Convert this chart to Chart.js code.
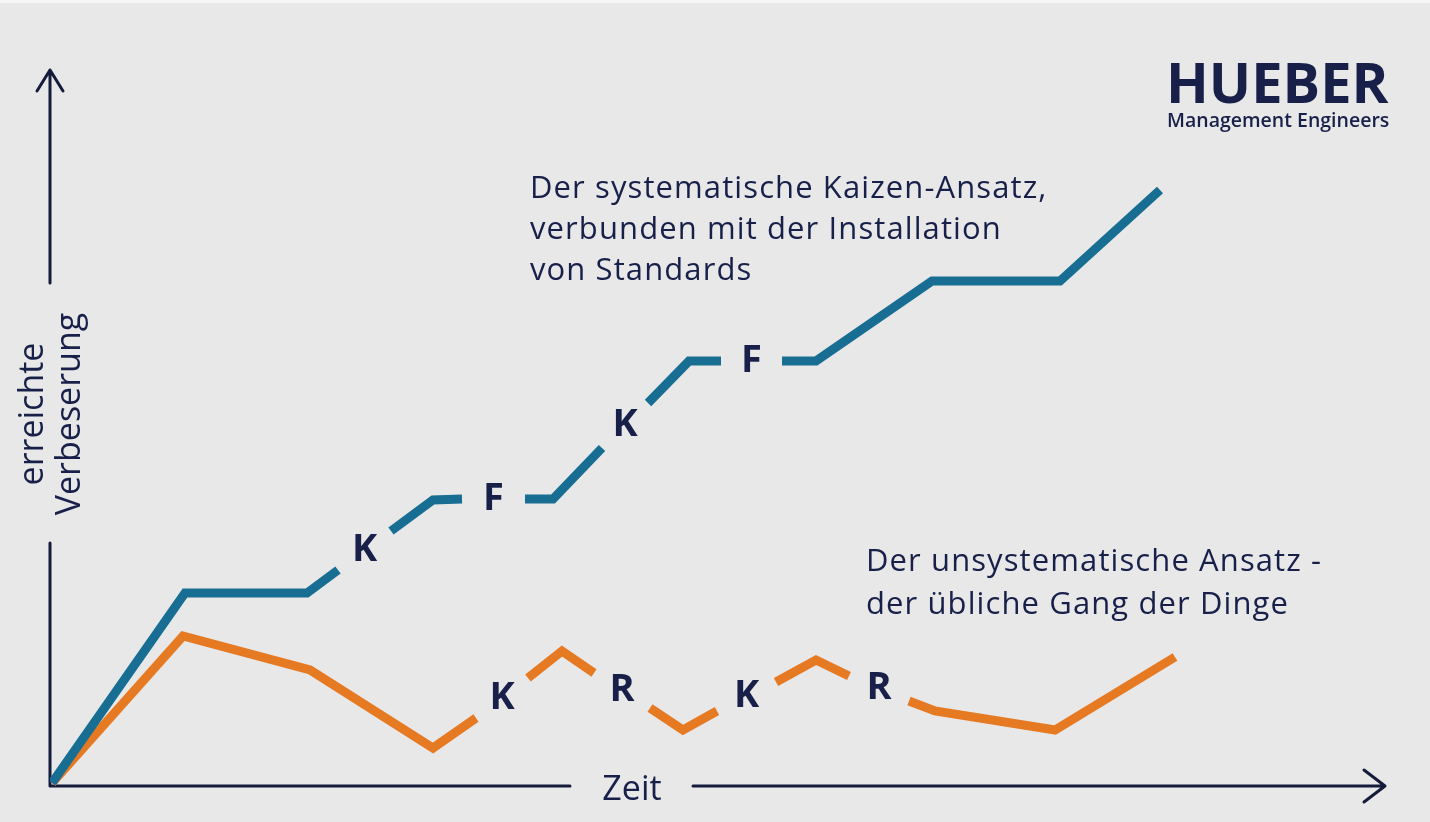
<!DOCTYPE html>
<html>
<head>
<meta charset="utf-8">
<script src="https://cdn.jsdelivr.net/npm/chart.js@4.4.1/dist/chart.umd.min.js"></script>
<style>
  html, body { margin: 0; padding: 0; background: #e8e8e8; }
  #wrap { width: 1430px; height: 822px; position: relative; border-top: 3px solid #f6f6f6; box-sizing: border-box; }
  canvas { display: block; position: absolute; left: 0; top: 0; }
</style>
</head>
<body>
<div id="wrap"><canvas id="chart" width="1430" height="822"></canvas></div>
<script>
// time axis (x) and achieved improvement (y), null = break where a letter sits
const kaizenX = [0.2, 13.5, 25.7, 28.8, 31.5, 34.1, 38.3, 41.2, 44.4, 47.5, 50.3, 55.2, 57.5, 59.8, 63.9, 67.1, 70.2, 73.2, 76.6, 88.2, 101.0, 111.0];
const kaizenY = [0.3, 19.3, 19.3, 21.6, null, 25.5, 28.6, 28.7, null, 28.7, 28.7, 33.8, null, 38.3, 42.5, 42.5, null, 42.5, 42.5, 50.5, 50.5, 59.6];
const kaizenMarks = ["K", "F", "K", "F"];

const usualX = [0.2, 13.3, 26.0, 38.3, 42.6, 45.2, 47.8, 51.2, 54.4, 57.2, 60.0, 63.3, 66.7, 69.7, 72.6, 76.6, 79.9, 82.9, 85.9, 88.5, 100.5, 112.5];
const usualY = [0.3, 15.0, 11.6, 3.8, 6.8, null, 10.8, 13.5, 11.3, null, 7.8, 5.6, 7.5, null, 10.4, 12.6, 11.0, null, 8.5, 7.5, 5.6, 12.9];
const usualMarks = ["K", "R", "K", "R"];

const kaizenText = ["Der systematische Kaizen-Ansatz,", "verbunden mit der Installation", "von Standards"];
const usualText = ["Der unsystematische Ansatz -", "der übliche Gang der Dinge"];
const xTitle = "Zeit";
const yTitle = ["erreichte", "Verbeserung"];

const NAVY = "#18204a";
const FONT = "'Open Sans', 'Noto Sans', sans-serif";

const toPoints = (xs, ys) => xs.map((x, i) => ({ x: x, y: ys[i] }));

// letters go in the middle of each break in the line
function drawMarks(ctx, meta, marks) {
  const pts = meta.data;
  let m = 0;
  meta._parsed.forEach((p, i) => {
    if (p.y === null || isNaN(p.y)) {
      const a = pts[i - 1], b = pts[i + 1];
      ctx.fillText(marks[m++], (a.x + b.x) / 2, (a.y + b.y) / 2);
    }
  });
}

const decor = {
  id: "decor",
  beforeDatasetsDraw(chart) {
    const { ctx, scales: { x, y } } = chart;
    const x0 = x.getPixelForValue(0), y0 = y.getPixelForValue(0);
    const xEnd = x.getPixelForValue(133.5), yEnd = y.getPixelForValue(71.6);
    ctx.save();
    ctx.strokeStyle = "#141b3b";
    ctx.lineWidth = 3;
    ctx.lineCap = "round";
    ctx.lineJoin = "round";
    // y axis with gap for its title
    ctx.beginPath();
    ctx.moveTo(x0, y0); ctx.lineTo(x0, y.getPixelForValue(24.3));
    ctx.moveTo(x0, y.getPixelForValue(50.3)); ctx.lineTo(x0, yEnd);
    ctx.moveTo(x0 - 13, yEnd + 21); ctx.lineTo(x0, yEnd); ctx.lineTo(x0 + 13, yEnd + 21);
    // x axis with gap for its title
    ctx.moveTo(x0, y0); ctx.lineTo(x.getPixelForValue(52), y0);
    ctx.moveTo(x.getPixelForValue(64.3), y0); ctx.lineTo(xEnd, y0);
    ctx.moveTo(xEnd - 21, y0 - 16); ctx.lineTo(xEnd, y0); ctx.lineTo(xEnd - 21, y0 + 16);
    ctx.stroke();
    ctx.restore();
  },
  afterDatasetsDraw(chart) {
    const { ctx, scales: { x, y } } = chart;
    ctx.save();
    ctx.fillStyle = NAVY;

    ctx.font = "bold 38px " + FONT;
    ctx.textAlign = "center";
    ctx.textBaseline = "middle";
    drawMarks(ctx, chart.getDatasetMeta(0), kaizenMarks);
    drawMarks(ctx, chart.getDatasetMeta(1), usualMarks);

    // axis titles
    ctx.textBaseline = "alphabetic";
    ctx.font = "34px " + FONT;
    ctx.fillText(xTitle, x.getPixelForValue(58.2), 797);
    ctx.save();
    ctx.translate(43, 411);
    ctx.rotate(-Math.PI / 2);
    ctx.fillText(yTitle[0], 0, 0);
    ctx.restore();
    ctx.save();
    ctx.translate(80, 411);
    ctx.rotate(-Math.PI / 2);
    ctx.fillText(yTitle[1], 0, 0);
    ctx.restore();

    // series notes
    ctx.textAlign = "left";
    ctx.font = "31px " + FONT;
    ctx.letterSpacing = "1.1px";
    kaizenText.forEach((t, i) => ctx.fillText(t, 530, 195 + i * 41));
    usualText.forEach((t, i) => ctx.fillText(t, 866, 568 + i * 43));
    ctx.letterSpacing = "0px";

    // logo
    ctx.font = "bold 56px " + FONT;
    ctx.fillText("HUEBER", 1166, 100);
    ctx.font = "600 19.5px " + FONT;
    ctx.fillText("Management Engineers", 1167, 124);
    ctx.restore();
  }
};

new Chart(document.getElementById("chart"), {
  type: "line",
  data: {
    datasets: [
      {
        label: "Kaizen",
        data: toPoints(kaizenX, kaizenY),
        borderColor: "#176e92",
        borderWidth: 9,
        spanGaps: false
      },
      {
        label: "üblich",
        data: toPoints(usualX, usualY),
        borderColor: "#e57a23",
        borderWidth: 9,
        spanGaps: false
      }
    ]
  },
  options: {
    responsive: false,
    animation: false,
    devicePixelRatio: 1,
    layout: { padding: { left: 50, right: 0, top: 0, bottom: 39 } },
    elements: {
      point: { radius: 0, hoverRadius: 0 },
      line: { tension: 0, capStyle: "butt", joinStyle: "miter", fill: false }
    },
    scales: {
      x: { type: "linear", min: 0, max: 138, display: false },
      y: { type: "linear", min: 0, max: 78.3, display: false }
    },
    plugins: { legend: { display: false }, tooltip: { enabled: false } },
    events: []
  },
  plugins: [decor]
});
</script>
</body>
</html>
